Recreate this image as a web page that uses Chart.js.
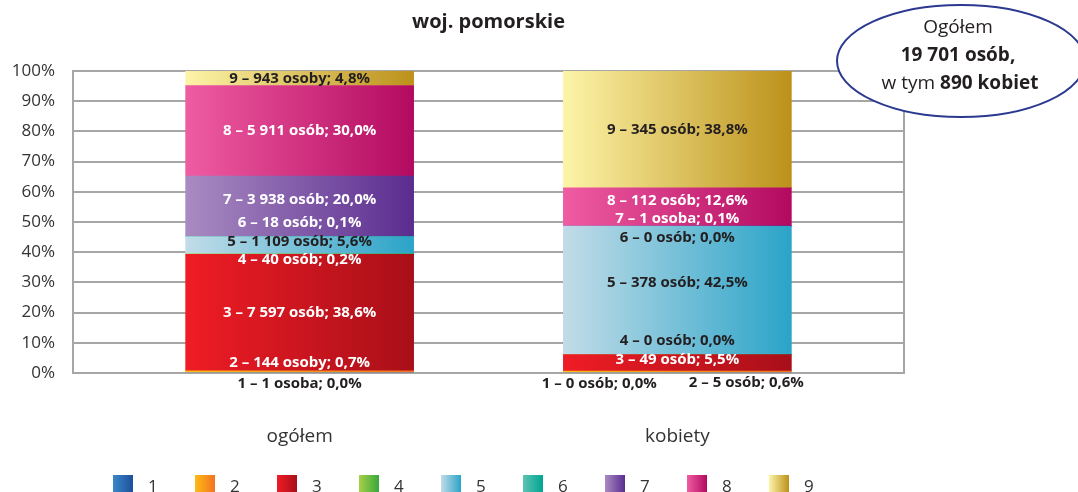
<!DOCTYPE html>
<html lang="pl">
<head>
<meta charset="utf-8">
<script src="https://cdn.jsdelivr.net/npm/chart.js@4.4.1/dist/chart.umd.min.js"></script>
<style>
  html, body { margin: 0; padding: 0; background: #fff; }
  #wrap { width: 1078px; height: 492px; }
</style>
</head>
<body>
<div id="wrap"><canvas id="groupsChart" width="1078" height="492"></canvas></div>
<script>
// Groups (bars) and categories (stacked segments)
const groups = ['ogółem', 'kobiety'];
const categories = ['1', '2', '3', '4', '5', '6', '7', '8', '9'];

// Number of people per category
const countsAll = [1, 144, 7597, 40, 1109, 18, 3938, 5911, 943];
const countsWomen = [0, 5, 49, 0, 378, 0, 1, 112, 345];

// Share of each category, %
const shareAll = [0.0, 0.7, 38.6, 0.2, 5.6, 0.1, 20.0, 30.0, 4.8];
const shareWomen = [0.0, 0.6, 5.5, 0.0, 42.5, 0.0, 0.1, 12.6, 38.8];

const yTicks = [0, 10, 20, 30, 40, 50, 60, 70, 80, 90, 100];
const totalAll = 19701;
const totalWomen = 890;

// left -> right gradient stops for each category
const palette = [
    ['#3a86c8', '#1d4f9c'],
    ['#fdbb14', '#f37321'],
    ['#ef1c25', '#a80f19'],
    ['#a8d04a', '#36a83a'],
    ['#c2dce8', '#2aa4c8'],
    ['#5cc3b2', '#00a592'],
    ['#a98bc2', '#5a2c90'],
    ['#ef5ca2', '#b30a60'],
    ['#fdf4a8', '#bc911a']
];

const BAR_W = 228;
const FONT = '"Open Sans", "DejaVu Sans", sans-serif';
const TEXT_DARK = '#231f20';

// label nudges per bar: [dx, dy, white text]
const labelNudge = [
    [[0, 11, 0], [0, -9, 1], [0, 0, 1], [0, 6, 1], [0, -4, 0], [0, -14, 1], [0, -7, 1], [0, 0, 1], [0, 0, 0]],
    [[-78, 11, 0], [69, 11, 0], [0, -3, 1], [0, -14, 0], [0, -8, 0], [0, 12, 0], [0, -7, 1], [0, -6, 1], [0, 0, 0]]
];

function fmtInt(n) {
    return String(n).replace(/\B(?=(\d{3})+(?!\d))/g, ' ');
}

function fmtPct(v) {
    return v.toFixed(1).replace('.', ',') + '%';
}

function personWord(n) {
    if (n === 1) return 'osoba';
    const d = n % 10, dd = n % 100;
    if (d >= 2 && d <= 4 && (dd < 12 || dd > 14)) return 'osoby';
    return 'osób';
}

function segmentLabel(cat, count, share) {
    return cat + ' – ' + fmtInt(count) + ' ' + personWord(count) + '; ' + fmtPct(share);
}

function barFill(ctx) {
    const chart = ctx.chart;
    const stops = palette[ctx.datasetIndex];
    const xs = chart.scales.x;
    if (!xs || !chart.chartArea || ctx.dataIndex === undefined) return stops[1];
    const cx = xs.getPixelForValue(ctx.dataIndex);
    const g = chart.ctx.createLinearGradient(cx - BAR_W / 2, 0, cx + BAR_W / 2, 0);
    g.addColorStop(0, stops[0]);
    g.addColorStop(1, stops[1]);
    return g;
}

const datasets = categories.map((cat, i) => ({
    label: cat,
    data: [{ x: 0, y: shareAll[i] }, { x: 1, y: shareWomen[i] }],
    backgroundColor: barFill,
    borderWidth: 0,
    barThickness: BAR_W
}));

// frame, title, segment labels, legend and the totals bubble
const decorations = {
    id: 'decorations',
    beforeDatasetsDraw(chart) {
        const { ctx, chartArea: a } = chart;
        ctx.save();
        ctx.strokeStyle = '#a6a6a6';
        ctx.lineWidth = 2;
        ctx.beginPath();
        ctx.moveTo(a.right, a.top);
        ctx.lineTo(a.right, a.bottom);
        ctx.stroke();
        ctx.restore();
    },
    afterDraw(chart) {
        const { ctx, chartArea: a } = chart;
        ctx.save();

        // title
        ctx.fillStyle = TEXT_DARK;
        ctx.textAlign = 'center';
        ctx.textBaseline = 'middle';
        ctx.font = 'bold 20px ' + FONT;
        ctx.fillText('woj. pomorskie', (a.left + a.right) / 2, 22);

        // segment labels
        ctx.font = 'bold 15px ' + FONT;
        const counts = [countsAll, countsWomen];
        const shares = [shareAll, shareWomen];
        chart.data.datasets.forEach((ds, i) => {
            const meta = chart.getDatasetMeta(i);
            meta.data.forEach((bar, j) => {
                const n = labelNudge[j][i];
                const y = (bar.y + bar.base) / 2 + n[1];
                ctx.fillStyle = n[2] ? '#ffffff' : TEXT_DARK;
                ctx.fillText(segmentLabel(categories[i], counts[j][i], shares[j][i]), bar.x + n[0], y);
            });
        });

        // legend
        ctx.font = '17px ' + FONT;
        ctx.textAlign = 'left';
        categories.forEach((cat, i) => {
            const bx = 113 + i * 82;
            const g = ctx.createLinearGradient(bx, 0, bx + 20, 0);
            g.addColorStop(0, palette[i][0]);
            g.addColorStop(1, palette[i][1]);
            ctx.fillStyle = g;
            ctx.fillRect(bx, 475, 20, 18);
            ctx.fillStyle = '#333333';
            ctx.fillText(cat, bx + 35, 487);
        });

        // totals bubble
        ctx.beginPath();
        ctx.ellipse(961, 61, 124, 56, 0, 0, Math.PI * 2);
        ctx.fillStyle = '#ffffff';
        ctx.fill();
        ctx.strokeStyle = '#2b3990';
        ctx.lineWidth = 2;
        ctx.stroke();

        ctx.fillStyle = TEXT_DARK;
        ctx.textAlign = 'center';
        ctx.font = '19px ' + FONT;
        ctx.fillText('Ogółem', 958, 28);
        ctx.font = 'bold 19px ' + FONT;
        ctx.fillText(fmtInt(totalAll) + ' osób,', 958, 56);

        const pre = 'w tym ';
        const post = totalWomen + ' kobiet';
        ctx.font = '19px ' + FONT;
        const wPre = ctx.measureText(pre).width;
        ctx.font = 'bold 19px ' + FONT;
        const wPost = ctx.measureText(post).width;
        let x = 960 - (wPre + wPost) / 2;
        ctx.textAlign = 'left';
        ctx.font = '19px ' + FONT;
        ctx.fillText(pre, x, 84);
        ctx.font = 'bold 19px ' + FONT;
        ctx.fillText(post, x + wPre, 84);

        ctx.restore();
    }
};

new Chart(document.getElementById('groupsChart'), {
    type: 'bar',
    data: { datasets: datasets },
    plugins: [decorations],
    options: {
        responsive: false,
        animation: false,
        layout: { padding: { top: 71, right: 174, left: 0, bottom: 0 } },
        plugins: {
            legend: { display: false },
            tooltip: { enabled: false }
        },
        scales: {
            x: {
                type: 'linear',
                stacked: true,
                offset: false,
                min: -0.6,
                max: 1.6,
                grid: { display: false },
                border: { display: true, color: '#a6a6a6', width: 2 },
                afterBuildTicks: (axis) => { axis.ticks = groups.map((g, i) => ({ value: i })); },
                afterFit: (axis) => { axis.height = 119; },
                ticks: {
                    padding: 44,
                    color: '#333333',
                    font: { family: FONT, size: 19 },
                    callback: (v) => groups[v]
                }
            },
            y: {
                stacked: true,
                min: 0,
                max: 100,
                afterBuildTicks: (axis) => { axis.ticks = yTicks.map(v => ({ value: v })); },
                afterFit: (axis) => { axis.width = 73; },
                grid: { color: '#a6a6a6', lineWidth: 2, drawTicks: false },
                border: { display: true, color: '#a6a6a6', width: 2 },
                ticks: {
                    padding: 18,
                    color: '#333333',
                    font: { family: FONT, size: 17 },
                    callback: (v) => v + '%'
                }
            }
        }
    }
});
</script>
</body>
</html>
